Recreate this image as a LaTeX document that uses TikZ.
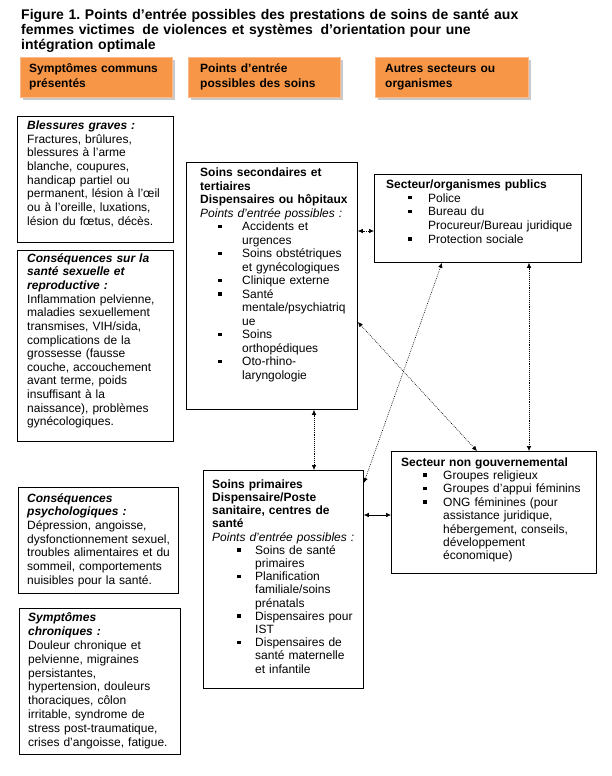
\documentclass[tikz,border=0pt]{standalone}
\usepackage{fontspec}
\setmainfont{Liberation Sans}
\usetikzlibrary{arrows.meta,shadows}
\definecolor{hdrorange}{HTML}{F79646}
\definecolor{hdredge}{HTML}{FAB98A}
\newcommand{\sqbul}{\rule[2.6pt]{3.6pt}{3.6pt}}
\newcommand{\bi}[1]{\textbf{\textit{#1}}}
\frenchspacing
\begin{document}
\begin{tikzpicture}[x=1pt,y=-1pt,
  box/.style={draw=black, line width=0.8pt, inner sep=0pt, anchor=north west, rectangle},
  hdr/.style={rectangle, inner sep=0pt, anchor=north west, fill=hdrorange, draw=hdredge, line width=1pt,
    drop shadow={shadow xshift=2.5pt, shadow yshift=-2.5pt, fill=black!35, opacity=0.6}},
  txt/.style={anchor=base west, inner sep=0pt, align=left, text width=240pt, font=\fontsize{12}{13.7}\selectfont},
  conn/.style={line width=0.6pt, dash pattern=on 0.8pt off 1.1pt, {Latex[length=5pt,width=4.5pt]}-{Latex[length=5pt,width=4.5pt]}},
  connsolid/.style={line width=0.6pt, {Latex[length=5pt,width=4.5pt]}-{Latex[length=5pt,width=4.5pt]}}
]
\useasboundingbox (0,0) rectangle (612,776);
\fill[white] (0,0) rectangle (612,776);

% title
\node[anchor=base west, inner sep=0pt, align=left, text width=560pt, font=\fontsize{14}{15.1}\selectfont\bfseries] (title) at (21,19.3)
{Figure 1. Points d’entrée possibles des prestations de soins de santé aux\\
femmes victimes\hspace{3pt} de violences et systèmes\hspace{3pt} d’orientation pour une\\
intégration optimale};

% headers
\node[hdr, minimum width=152pt, minimum height=40pt] (h1) at (20,57) {};
\node[hdr, minimum width=152pt, minimum height=40pt] (h2) at (188,57) {};
\node[hdr, minimum width=153pt, minimum height=40pt] (h3) at (375,57) {};
\node[txt, font=\fontsize{12}{14.7}\selectfont\bfseries] (h1t) at (29,73) {Symptômes communs\\présentés};
\node[txt, font=\fontsize{12}{14.7}\selectfont\bfseries] (h2t) at (200,73) {Points d’entrée\\possibles des soins};
\node[txt, font=\fontsize{12}{14.7}\selectfont\bfseries] (h3t) at (385,73) {Autres secteurs ou\\organismes};

% left column
\node[box, minimum width=156pt, minimum height=126pt] (b1) at (17,116) {};
\node[txt] (b1t) at (27,129.3) {\bi{Blessures graves :}\\
Fractures, brûlures,\\
blessures à l’arme\\
blanche, coupures,\\
handicap partiel ou\\
permanent, lésion à l’œil\\
ou à l’oreille, luxations,\\
lésion du fœtus, décès.};

\node[box, minimum width=156pt, minimum height=191pt] (b2) at (17,250) {};
\node[txt, font=\fontsize{12}{13.62}\selectfont] (b2t) at (27,262.3) {\bi{Conséquences sur la}\\
\bi{santé sexuelle et}\\
\bi{reproductive :}\\
Inflammation pelvienne,\\
maladies sexuellement\\
transmises, VIH/sida,\\
complications de la\\
grossesse (fausse\\
couche, accouchement\\
avant terme, poids\\
insuffisant à la\\
naissance), problèmes\\
gynécologiques.};

\node[box, minimum width=160pt, minimum height=106pt] (b3) at (18,487) {};
\node[txt, font=\fontsize{12}{13.67}\selectfont] (b3t) at (27,502.3) {\bi{Conséquences}\\
\bi{psychologiques :}\\
Dépression, angoisse,\\
dysfonctionnement sexuel,\\
troubles alimentaires et du\\
sommeil, comportements\\
nuisibles pour la santé.};

\node[box, minimum width=161pt, minimum height=146pt] (b4) at (19,608) {};
\node[txt, font=\fontsize{12}{13.85}\selectfont] (b4t) at (28,621.7) {\bi{Symptômes}\\
\bi{chroniques :}\\
Douleur chronique et\\
pelvienne, migraines\\
persistantes,\\
hypertension, douleurs\\
thoraciques, côlon\\
irritable, syndrome de\\
stress post-traumatique,\\
crises d’angoisse, fatigue.};

% middle column
\node[box, minimum width=171pt, minimum height=247pt] (sec) at (186,162) {};
\node[txt, font=\fontsize{12}{13.5}\selectfont] (sect) at (200,176.7) {\textbf{Soins secondaires et}\\
\textbf{tertiaires}\\
\textbf{Dispensaires ou hôpitaux}\\
\textit{Points d’entrée possibles :}\\
\hspace*{18pt}\makebox[24pt][l]{\sqbul}Accidents et\\
\hspace*{42pt}urgences\\
\hspace*{18pt}\makebox[24pt][l]{\sqbul}Soins obstétriques\\
\hspace*{42pt}et gynécologiques\\
\hspace*{18pt}\makebox[24pt][l]{\sqbul}Clinique externe\\
\hspace*{18pt}\makebox[24pt][l]{\sqbul}Santé\\
\hspace*{42pt}mentale/psychiatriq\\
\hspace*{42pt}ue\\
\hspace*{18pt}\makebox[24pt][l]{\sqbul}Soins\\
\hspace*{42pt}orthopédiques\\
\hspace*{18pt}\makebox[24pt][l]{\sqbul}Oto-rhino-\\
\hspace*{42pt}laryngologie};

\node[box, minimum width=160pt, minimum height=218pt] (prim) at (203,470) {};
\node[txt, font=\fontsize{12}{13.2}\selectfont] (primt) at (212,488.3) {\textbf{Soins primaires}\\
\textbf{Dispensaire/Poste}\\
\textbf{sanitaire, centres de}\\
\textbf{santé}\\
\textit{Points d’entrée possibles :}\\
\hspace*{25pt}\makebox[18pt][l]{\sqbul}Soins de santé\\
\hspace*{43pt}primaires\\
\hspace*{25pt}\makebox[18pt][l]{\sqbul}Planification\\
\hspace*{43pt}familiale/soins\\
\hspace*{43pt}prénatals\\
\hspace*{25pt}\makebox[18pt][l]{\sqbul}Dispensaires pour\\
\hspace*{43pt}IST\\
\hspace*{25pt}\makebox[18pt][l]{\sqbul}Dispensaires de\\
\hspace*{43pt}santé maternelle\\
\hspace*{43pt}et infantile};

% right column
\node[box, minimum width=207pt, minimum height=88pt] (pub) at (374,174) {};
\node[txt, font=\fontsize{12}{13.75}\selectfont] (pubt) at (386,188.3) {\textbf{Secteur/organismes publics}\\
\hspace*{22pt}\makebox[20pt][l]{\sqbul}Police\\
\hspace*{22pt}\makebox[20pt][l]{\sqbul}Bureau du\\
\hspace*{42pt}Procureur/Bureau juridique\\
\hspace*{22pt}\makebox[20pt][l]{\sqbul}Protection sociale};

\node[box, minimum width=205pt, minimum height=122pt] (ngo) at (391,451) {};
\node[txt, font=\fontsize{12}{13.4}\selectfont] (ngot) at (401,466) {\textbf{Secteur non gouvernemental}\\
\hspace*{22pt}\makebox[20pt][l]{\sqbul}Groupes religieux\\
\hspace*{22pt}\makebox[20pt][l]{\sqbul}Groupes d’appui féminins\\
\hspace*{22pt}\makebox[20pt][l]{\sqbul}ONG féminines (pour\\
\hspace*{42pt}assistance juridique,\\
\hspace*{42pt}hébergement, conseils,\\
\hspace*{42pt}développement\\
\hspace*{42pt}économique)};

% connectors
\draw[conn] (sec.east |- 0,231) -- (pub.west |- 0,231);
\draw[conn] (sec.south -| 314,0) -- (prim.north -| 314,0);
\draw[conn] (sec.east |- 0,322) -- (ngo.north -| 477,0);
\draw[conn] (pub.south -| 442,0) -- (prim.east |- 0,483);
\draw[conn] (pub.south -| 529,0) -- (ngo.north -| 529,0);
\draw[connsolid] (prim.east |- 0,515) -- (ngo.west |- 0,515);
\end{tikzpicture}
\end{document}
